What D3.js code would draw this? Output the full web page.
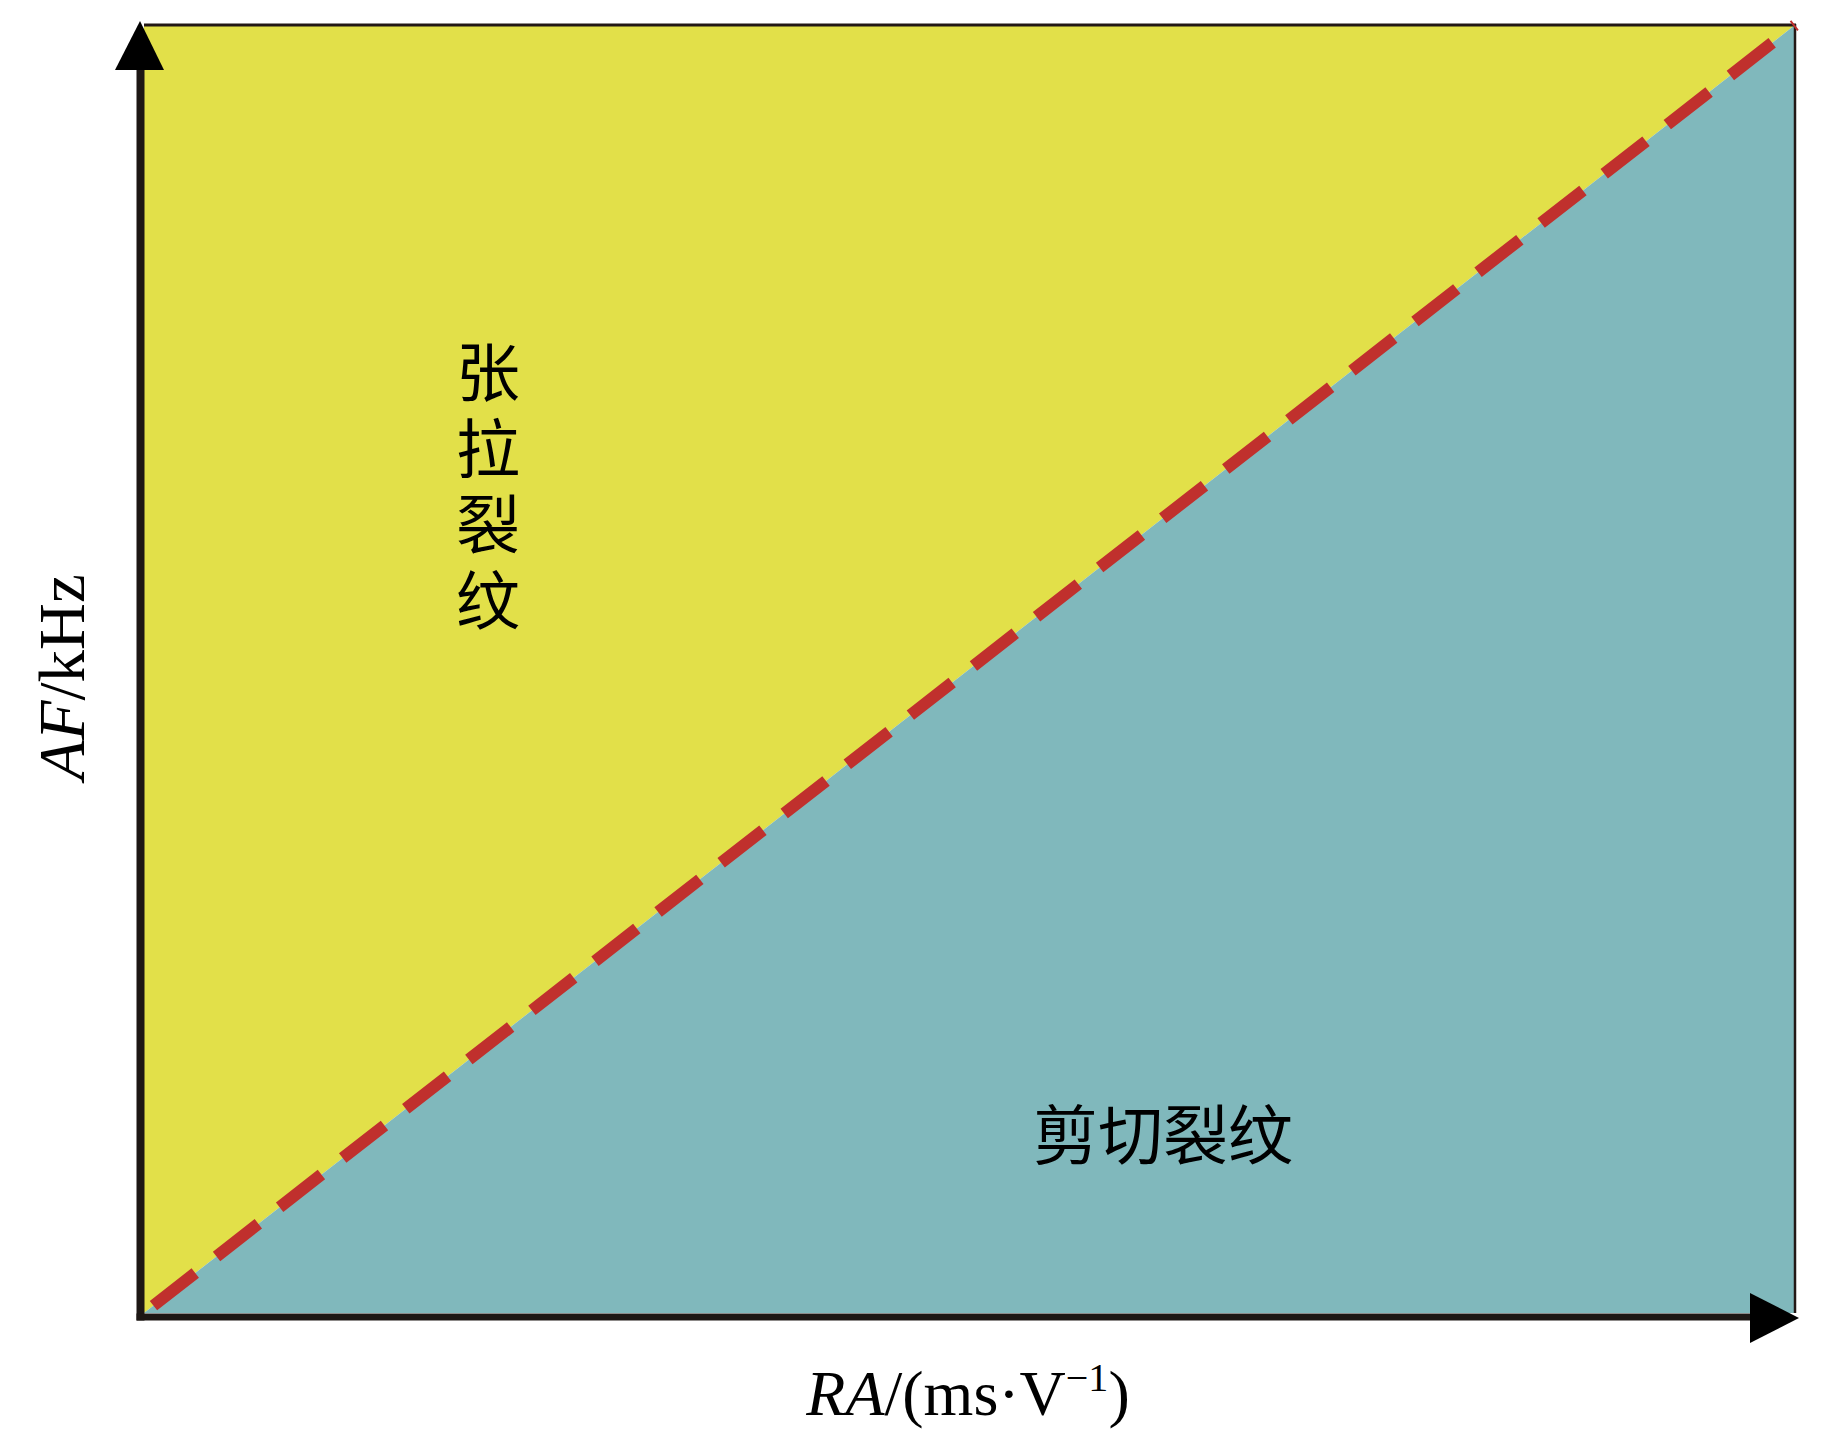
<!DOCTYPE html>
<html><head><meta charset="utf-8">
<script src="https://cdn.jsdelivr.net/npm/d3@7"></script>
<style>html,body{margin:0;padding:0;background:#fff;}svg{display:block;}</style>
</head><body>
<script>
// ---- data (normalised schematic coordinates) ----
const boundaryX = [0, 1];
const boundaryY = [0, 1];
const tensileRegion = [[0, 0], [0, 1], [1, 1]];
const shearRegion = [[0, 0], [1, 0], [1, 1]];
const tensileLabel = "张拉裂纹";
const shearLabel = "剪切裂纹";
const xTicks = [];
const yTicks = [];

const W = 1843, H = 1440;
const svg = d3.select("body").append("svg").attr("width", W).attr("height", H);

const x = d3.scaleLinear().domain([0, 1]).range([144, 1795]);
const y = d3.scaleLinear().domain([0, 1]).range([1313, 25]);

const area = d3.line().x(d => x(d[0])).y(d => y(d[1]));
svg.append("path").attr("d", area(tensileRegion) + "Z").attr("fill", "#e2e049");
svg.append("path").attr("d", area(shearRegion) + "Z").attr("fill", "#80b8bc");

// thin frame top / right
svg.append("line").attr("x1", x(0)).attr("x2", x(1) + 1).attr("y1", y(1)).attr("y2", y(1))
  .attr("stroke", "#231815").attr("stroke-width", 3);
svg.append("line").attr("x1", x(1)).attr("x2", x(1)).attr("y1", y(1) - 1).attr("y2", y(0))
  .attr("stroke", "#231815").attr("stroke-width", 2.5);

// boundary dashed line
const pts = boundaryX.map((v, i) => [v, boundaryY[i]]);
svg.append("path").attr("d", area(pts))
  .attr("fill", "none").attr("stroke", "#c0302d").attr("stroke-width", 12)
  .attr("stroke-dasharray", "53,27").attr("stroke-dashoffset", -12);

// axes
const yAxisScale = d3.scaleLinear().domain([0, 1]).range([1320, 68]);
const xAxisScale = d3.scaleLinear().domain([0, 1]).range([136, 1752]);
const gy = svg.append("g").attr("transform", "translate(140,0)")
  .call(d3.axisLeft(yAxisScale).tickValues(yTicks).tickSizeOuter(0));
gy.select(".domain").attr("stroke", "#1d1714").attr("stroke-width", 8);
const gx = svg.append("g").attr("transform", "translate(0,1316.5)")
  .call(d3.axisBottom(xAxisScale).tickValues(xTicks).tickSizeOuter(0));
gx.select(".domain").attr("stroke", "#1d1714").attr("stroke-width", 7);

// arrows
svg.append("path").attr("d", "M140,21L164,70L115,70Z").attr("fill", "#000");
svg.append("path").attr("d", "M1799,1318L1750,1293L1750,1343Z").attr("fill", "#000");

// region labels
svg.append("text")
  .attr("x", 488).attr("y", 340)
  .style("writing-mode", "vertical-rl")
  .style("text-orientation", "upright")
  .style("letter-spacing", "12px")
  .attr("font-family", "'Noto Sans CJK SC'").attr("font-size", 64).attr("fill", "#000")
  .text(tensileLabel);
svg.append("text").attr("x", 1163).attr("y", 1131)
  .attr("text-anchor", "middle").attr("dominant-baseline", "central")
  .attr("font-family", "'Noto Sans CJK SC'").attr("font-size", 65).attr("fill", "#000")
  .text(shearLabel);

// axis titles
const xt = svg.append("text").attr("x", 968).attr("y", 1415).attr("text-anchor", "middle")
  .attr("font-family", "'Liberation Serif','Times New Roman',serif").attr("font-size", 64).attr("fill", "#000");
xt.append("tspan").attr("font-style", "italic").text("RA");
xt.append("tspan").text("/(ms\u00B7V");
xt.append("tspan").attr("font-size", 40).attr("dy", -24).text("\u22121");
xt.append("tspan").attr("dy", 24).text(")");

const yt = svg.append("text").attr("transform", "translate(84,677) rotate(-90)").attr("text-anchor", "middle")
  .attr("font-family", "'Liberation Serif','Times New Roman',serif").attr("font-size", 65).attr("fill", "#000");
yt.append("tspan").attr("font-style", "italic").text("AF");
yt.append("tspan").text("/kHz");
</script>
</body></html>
